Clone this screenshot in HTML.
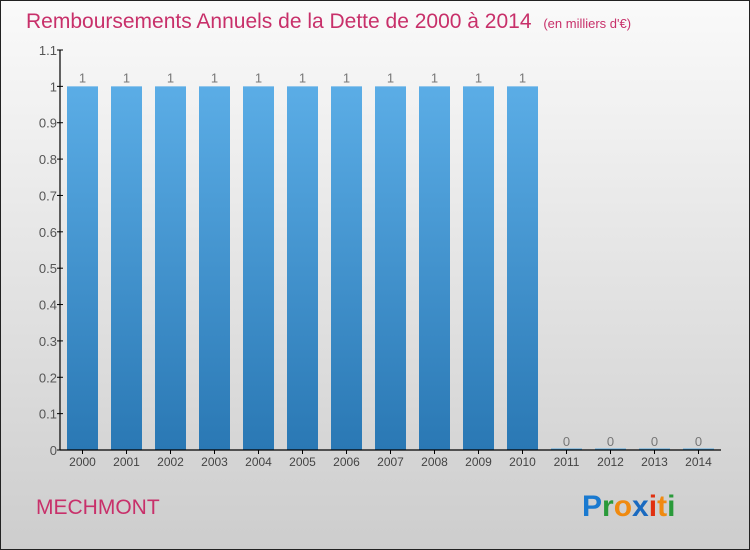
<!DOCTYPE html>
<html><head><meta charset="utf-8"><style>
body{margin:0;}
#wrap{width:750px;height:550px;position:relative;overflow:hidden;font-family:"Liberation Sans",sans-serif;}
</style></head><body>
<div id="wrap">
<svg id="chart" width="750" height="550" xmlns="http://www.w3.org/2000/svg">
<defs>
<linearGradient id="bg" x1="0" y1="0" x2="0" y2="1"><stop offset="0" stop-color="#fafafa"/><stop offset="1" stop-color="#cdcdcd"/></linearGradient>
<linearGradient id="bar" x1="0" y1="0" x2="0" y2="1"><stop offset="0" stop-color="#5badE6"/><stop offset="1" stop-color="#2a78b4"/></linearGradient>
</defs>
<rect x="0.5" y="0.5" width="749" height="549" fill="url(#bg)" stroke="#222"/>
<text x="26" y="28" font-size="21" fill="#c8306a">Remboursements Annuels de la Dette de 2000 à 2014 <tspan font-size="13" dx="6">(en milliers d'€)</tspan></text>
<text x="36" y="514" font-size="21" fill="#c8306a">MECHMONT</text>
<g id="logo" font-size="30" font-family="'Liberation Sans',sans-serif" font-weight="bold">
<text x="582" y="516"><tspan fill="#1a7ad0">P</tspan><tspan fill="#2a9a3a">r</tspan><tspan fill="#f08a10">o</tspan><tspan fill="#1a6ac0">x</tspan><tspan fill="#e03010">i</tspan><tspan fill="#f08a10">t</tspan><tspan fill="#2a9a3a">i</tspan></text>
</g>
<g id="plot"></g>
</svg>
</div>
<script>
const years=["2000","2001","2002","2003","2004","2005","2006","2007","2008","2009","2010","2011","2012","2013","2014"];
const values=[1,1,1,1,1,1,1,1,1,1,1,0,0,0,0];
const valueLabels=["1","1","1","1","1","1","1","1","1","1","1","0","0","0","0"];
const yTicks=[0,0.1,0.2,0.3,0.4,0.5,0.6,0.7,0.8,0.9,1,1.1];
const yTickLabels=["0","0.1","0.2","0.3","0.4","0.5","0.6","0.7","0.8","0.9","1","1.1"];

const NS="http://www.w3.org/2000/svg";
const g=document.getElementById('plot');
const x0=60,x1=721,yBase=450,yTop=50,yMax=1.1;
const ys=v=>yBase-(v/yMax)*(yBase-yTop);
const step=44,first=82.5,bw=31;
const xs=i=>first+i*step;
function mk(t,a){const e=document.createElementNS(NS,t);for(const k in a)e.setAttribute(k,a[k]);g.appendChild(e);return e;}
years.forEach((y,i)=>{
  const v=values[i];const top=ys(v);
  const h=Math.max(yBase-top,1.5);
  const r=mk('rect',{x:xs(i)-bw/2,y:yBase-h,width:bw,height:h,fill:v>0?'url(#bar)':'#5aaae0'});
  
  
  const t=mk('text',{x:xs(i),y:top-4,'font-size':13,fill:'#777','text-anchor':'middle'});
  t.textContent=valueLabels[i];
  
  
  const xt=mk('text',{x:xs(i),y:466,'font-size':12,fill:'#444','text-anchor':'middle'});
  xt.textContent=y;
  
  
  const tk=mk('line',{x1:xs(i),x2:xs(i),y1:yBase,y2:yBase+4,stroke:'#000'});
  
  
});
yTicks.forEach((v,i)=>{
  const y=ys(v);
  const tk=mk('line',{x1:x0-3,x2:x0+3,y1:y,y2:y,stroke:'#000'});
  
  
  const t=mk('text',{x:x0-3,y:y+5,'font-size':13,fill:'#555','text-anchor':'end'});
  t.textContent=yTickLabels[i];
  
  
});
const ya=mk('line',{x1:x0,x2:x0,y1:yTop,y2:yBase,stroke:'#000','stroke-width':1.2});


const xa=mk('line',{x1:x0,x2:x1,y1:yBase,y2:yBase,stroke:'#000','stroke-width':1.2});


</script>
</body></html>
